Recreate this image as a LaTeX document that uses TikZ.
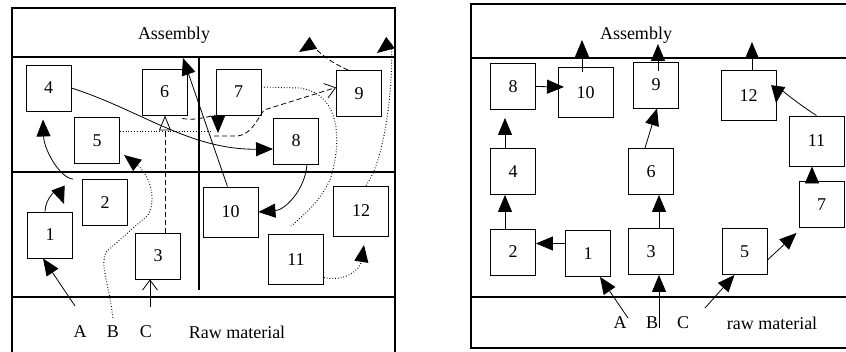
\documentclass[tikz,border=0pt]{standalone}
\usepackage{fontspec}
\setmainfont{Liberation Serif}
\usetikzlibrary{arrows.meta}

\begin{document}
\begin{tikzpicture}[x=1pt, y=-1pt,
      box/.style={draw, line width=0.9pt, minimum width=45pt,
                  minimum height=46pt, inner sep=0pt,
                  font=\fontsize{18}{20}\selectfont},
      widebox/.style={box, minimum width=55pt, minimum height=50pt},
      lbl/.style={font=\fontsize{18}{20}\selectfont},
      frame/.style={line width=1.2pt},
      flow/.style={line width=0.8pt},
      dotline/.style={flow, dotted, line width=1pt},
      dashline/.style={flow, dash pattern=on 5pt off 3pt},
      arr/.style={-{Triangle[length=17pt,width=14pt]}},
      openarr/.style={-{Triangle[open,length=15pt,width=12pt]}},
      barb/.style={-{Straight Barb[length=10pt,width=15pt]}}]
    \useasboundingbox (0,0) rectangle (846,352);

    % functional layout (left)
    \draw[frame] (12,352) -- (12,8) -- (395,8) -- (395,352);
    \draw[frame] (12,57) -- (395,57) (12,172) -- (395,172)
                 (12,297) -- (395,297) (199,57) -- (199,290);
    \foreach \n/\x/\y in {1/50/235, 2/105/202.5, 3/158/256, 4/48.5/88,
                          5/97/140.5, 6/164.5/92, 7/238.5/92, 8/296/141,
                          9/359/93.5} {
      \node[box] (L\n) at (\x,\y) {\n};
    }
    \foreach \n/\x/\y in {10/230.5/212, 11/296/259.5, 12/361/211} {
      \node[widebox] (L\n) at (\x,\y) {\n};
    }
    \node[lbl] (asmL) at (174,35) {Assembly};
    \node[lbl] (lA) at (80,332) {A};
    \node[lbl] (lB) at (113,332) {B};
    \node[lbl] (lC) at (146,332) {C};
    \node[lbl] (rawL) at (237,332) {Raw material};

    \coordinate (pA) at (75,306);
    \coordinate (pB) at (113,318);
    \coordinate (pC) at (150,307);
    \coordinate (t12) at (64,204);
    \coordinate (t10) at (183,58);
    \coordinate (t5) at (124,155);
    \coordinate (m57) at (210,131.5);
    \coordinate (t67) at (218,133);
    \coordinate (m69) at (214,136);
    \coordinate (t11) at (291,226);
    \coordinate (t12b) at (364,245);
    \coordinate (t12a) at (377,53);
    \coordinate (t9a) at (299,52);

    % product A
    \draw[flow, arr] (pA) -- ([xshift=-7pt]L1.south);
    \draw[flow, arr] ([xshift=-5pt]L1.north) .. controls (45,198) and (58,188) .. (t12);
    \draw[flow, arr] ([xshift=-9pt]L2.north west) .. controls (60,178) and (44,150)
      .. ([xshift=-5.5pt,yshift=-8pt]L4.south);
    \draw[flow, arr] (L4.east) .. controls (140,110) and (190,150) .. ([yshift=-8pt]L8.west);
    \draw[flow, arr] ([xshift=11pt]L8.south) .. controls (305,190) and (285,210) .. (L10.east);
    \draw[flow, arr] ([xshift=-3pt]L10.north) -- (t10);
    % product B
    \draw[dotline, arr] (pB) .. controls (108,280) and (100,265) .. (106,252)
      -- (148,215) .. controls (157,200) and (150,175) .. (t5);
    \draw[dotline] ([yshift=9pt]L5.east) -- (m57);
    \draw[dotline] ([yshift=5pt]L7.east) -- (300,88) .. controls (345,95) and (340,150)
      .. (330,180) .. controls (320,200) and (310,210) .. (t11);
    \draw[dotline, arr] ([yshift=-18pt]L11.east) .. controls (345,282) and (360,270) .. (t12b);
    \draw[dotline, arr] ([xshift=5pt]L12.north) .. controls (392,150) and (394,40) .. (t12a);
    % product C
    \draw[flow, barb] (pC) -- ([xshift=-8pt]L3.south);
    \draw[dashline, openarr] ([xshift=7pt]L3.north) -- ([xshift=0.5pt]L6.south);
    \draw[dashline, arr] ([xshift=-5pt,yshift=-3pt]L6.south east)
      .. controls (200,122) and (218,112) .. (t67);
    \draw[dashline, barb] (m69) -- (238,136) .. controls (252,134) and (258,118)
      .. (264,110) -- ([yshift=6pt]L9.west);
    \draw[dashline, arr] ([xshift=12pt]L9.north west) .. controls (325,60) and (310,45) .. (t9a);

    % cellular layout (right)
    \draw[frame] (846,4) -- (471,4) -- (471,348) -- (846,348);
    \draw[frame] (471,58) -- (846,58) (471,297) -- (846,297);
    \foreach \n/\x/\y in {1/588/253.5, 2/513/252, 3/651/251.5, 4/513/171.5,
                          5/744.5/251.5, 6/651/171.5, 7/821.5/204.5,
                          8/513/86.5, 9/656/85} {
      \node[box] (R\n) at (\x,\y) {\n};
    }
    \foreach \n/\x/\y in {10/585.5/92.5, 11/816.5/141, 12/748.5/95.5} {
      \node[widebox] (R\n) at (\x,\y) {\n};
    }
    \node[lbl] (asmR) at (636,35) {Assembly};
    \node[lbl] (rA) at (620,323) {A};
    \node[lbl] (rB) at (652,323) {B};
    \node[lbl] (rC) at (683,323) {C};
    \node[lbl] (rawR) at (772,323) {raw material};

    \coordinate (qA) at (628,318);
    \coordinate (qB) at (659,328);
    \coordinate (qC) at (705,308);
    \coordinate (s810) at (564,87);
    \coordinate (s10) at (582,40);
    \coordinate (s9) at (658,44);
    \coordinate (s12) at (752,42);
    \coordinate (s1112) at (776,103);

    \draw[flow, arr] (qA) -- ([xshift=12pt]R1.south);
    \draw[flow, arr] ([yshift=10pt]R1.west) -- ([yshift=10pt]R1.west -| R2.east);
    \draw[flow, arr] ([xshift=-8pt]R2.north) -- ([xshift=-8pt]R4.south);
    \draw[flow, arr] ([xshift=-8pt]R4.north) -- ([xshift=-8pt,yshift=-8pt]R8.south);
    \draw[flow, arr] (R8.east) -- (s810);
    \draw[flow, arr] ([xshift=-3.5pt,yshift=-5pt]R10.north) -- (s10);
    \draw[flow, arr] (qB) -- ([xshift=8pt]R3.south);
    \draw[flow, arr] ([xshift=8pt]R3.north) -- ([xshift=8pt]R6.south);
    \draw[flow, arr] ([xshift=-6pt]R6.north) -- ([xshift=1pt]R9.south);
    \draw[flow, arr] ([xshift=2pt,yshift=-9pt]R9.north) -- (s9);
    \draw[flow, arr] (qC) -- ([xshift=-10pt]R5.south);
    \draw[flow, arr] ([yshift=-8.5pt]R5.east) -- ([xshift=-2pt,yshift=-5pt]R7.south west);
    \draw[flow, arr] ([xshift=-9.5pt]R7.north) -- ([xshift=-4.5pt]R11.south);
    \draw[flow, arr] (R11.north) .. controls (800,105) and (778,88) .. (s1112);
    \draw[flow, arr] ([xshift=3.5pt]R12.north) -- (s12);
  \end{tikzpicture}
\end{document}
